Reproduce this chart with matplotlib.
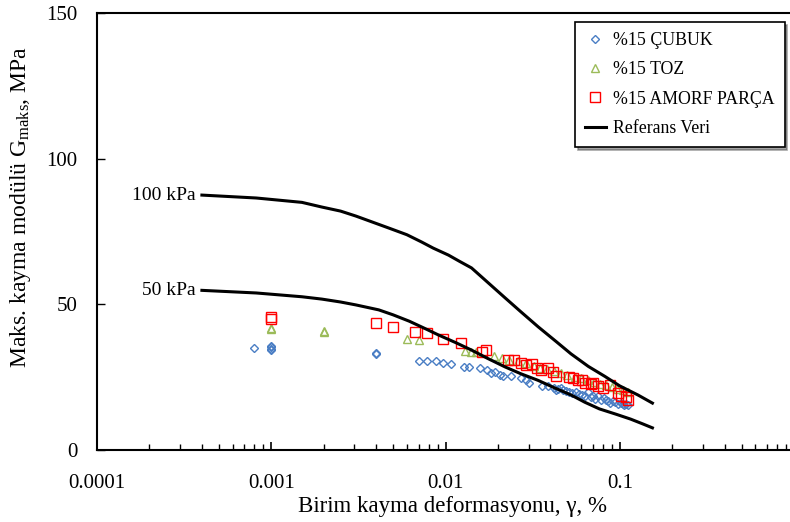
import matplotlib
matplotlib.use("Agg")
import matplotlib.pyplot as plt
from matplotlib.ticker import LogLocator, NullFormatter, FixedLocator, FixedFormatter

plt.rcParams['font.family'] = ['Liberation Serif', 'DejaVu Serif']
plt.rcParams['mathtext.fontset'] = 'custom'
plt.rcParams['mathtext.rm'] = 'Liberation Serif'
plt.rcParams['mathtext.it'] = 'Liberation Serif:italic'

# %15 CUBUK (blue diamonds)
cubuk_x = [0.0008, 0.001, 0.001, 0.001, 0.001, 0.004, 0.004,
           0.007, 0.0078, 0.0088, 0.0097, 0.0108, 0.0127, 0.0137, 0.0158, 0.0173,
           0.0183, 0.0193, 0.0206, 0.0215, 0.0239, 0.027, 0.029, 0.030, 0.036,
           0.039, 0.042, 0.043, 0.044, 0.046, 0.047, 0.049, 0.051, 0.053, 0.056,
           0.058, 0.061, 0.063, 0.066, 0.068, 0.070, 0.072, 0.075, 0.078, 0.081,
           0.083, 0.086, 0.088, 0.091, 0.094, 0.098, 0.101, 0.104, 0.106, 0.109, 0.112]
cubuk_y = [35.0, 35.8, 35.2, 34.6, 34.2, 33.3, 32.8,
           30.6, 30.5, 30.4, 29.9, 29.5, 28.6, 28.4, 28.1, 27.5,
           26.5, 26.9, 25.9, 25.4, 25.4, 24.7, 24.0, 22.9, 21.8,
           21.9, 21.2, 20.5, 20.9, 21.3, 20.5, 20.3, 19.9, 19.6, 19.9,
           19.3, 18.9, 18.7, 19.8, 18.3, 18.5, 17.6, 18.4, 17.2, 17.9,
           17.3, 16.9, 16.2, 16.8, 16.5, 15.8, 16.1, 15.9, 15.4, 15.8, 15.6]

# %15 TOZ (green triangles)
toz_x = [0.001, 0.001, 0.002, 0.002, 0.006, 0.007, 0.013, 0.014, 0.015, 0.019,
         0.021, 0.023, 0.026, 0.029, 0.032, 0.035, 0.038, 0.042, 0.046, 0.050,
         0.055, 0.060, 0.066, 0.071, 0.077, 0.083, 0.090, 0.097, 0.105, 0.112]
toz_y = [42.0, 41.6, 41.0, 40.5, 38.2, 37.8, 34.0, 33.8, 33.7, 32.2,
         31.5, 30.8, 30.5, 29.7, 29.0, 28.2, 27.8, 27.0, 26.5, 25.8,
         25.2, 24.7, 24.0, 23.4, 22.8, 22.3, 21.7, 21.0, 20.5, 20.0]

# %15 AMORF PARCA (red squares)
amorf_x = [0.001, 0.001, 0.004, 0.005, 0.0067, 0.0078, 0.0097, 0.0123, 0.0163, 0.0171,
           0.0228, 0.0246, 0.027, 0.029, 0.0314, 0.0336, 0.0354, 0.0386, 0.0414, 0.0431,
           0.0512, 0.0538, 0.0575, 0.0606, 0.0634, 0.0682, 0.070, 0.075, 0.080, 0.088,
           0.098, 0.101, 0.109, 0.112]
amorf_y = [45.8, 45.0, 43.6, 42.2, 40.5, 40.2, 38.1, 36.7, 33.6, 34.3,
           30.9, 30.9, 29.9, 29.2, 29.5, 28.2, 27.5, 28.2, 26.8, 25.4,
           25.1, 24.7, 24.0, 24.0, 23.0, 22.7, 23.0, 22.0, 21.3, 22.3,
           19.6, 18.5, 18.2, 17.2]

# reference curves (Referans Veri)
ref100_x = [0.0004, 0.00082, 0.0015, 0.00195, 0.0025, 0.00306, 0.00472, 0.006,
            0.00729, 0.0085, 0.0104, 0.012, 0.0141, 0.0175, 0.022, 0.027, 0.034,
            0.043, 0.0525, 0.066, 0.082, 0.10, 0.127, 0.154]
ref100_y = [87.5, 86.5, 85.0, 83.4, 82.0, 80.3, 76.2, 73.9,
            71.4, 69.3, 66.9, 64.8, 62.5, 57.5, 52.2, 47.5, 42.3,
            37.3, 33.0, 28.7, 25.3, 22.0, 18.9, 16.1]
ref50_x = [0.0004, 0.00082, 0.0015, 0.00195, 0.0025, 0.00306, 0.00414, 0.005,
           0.0062, 0.0075, 0.0091, 0.0115, 0.0141, 0.0175, 0.022, 0.027, 0.034,
           0.042, 0.0525, 0.063, 0.0765, 0.095, 0.1155, 0.135, 0.154]
ref50_y = [54.8, 53.9, 52.6, 51.8, 50.8, 49.8, 48.1, 46.4,
           44.2, 41.9, 39.5, 36.8, 34.3, 31.4, 28.5, 26.2, 23.9,
           21.4, 18.9, 16.4, 14.1, 12.3, 10.6, 9.0, 7.6]

fig = plt.figure(figsize=(7.9, 5.22), dpi=100)
ax = fig.add_axes([97/790, 1 - 450/522, 697/790, 437/522])

ax.plot(cubuk_x, cubuk_y, linestyle='none', marker='D', markersize=4,
        markerfacecolor='none', markeredgecolor='#4A7EC4', markeredgewidth=1.0,
        label='%15 ÇUBUK')
ax.plot(toz_x, toz_y, linestyle='none', marker='^', markersize=6,
        markerfacecolor='none', markeredgecolor='#9BBB59', markeredgewidth=1.0,
        label='%15 TOZ')
ax.plot(amorf_x, amorf_y, linestyle='none', marker='s', markersize=7,
        markerfacecolor='none', markeredgecolor='#FF0000', markeredgewidth=1.0,
        label='%15 AMORF PARÇA')
ax.plot(ref100_x, ref100_y, color='black', lw=2.2, label='Referans Veri')
ax.plot(ref50_x, ref50_y, color='black', lw=2.2)

ax.text(0.00037, 87.5, '100 kPa', ha='right', va='center', fontsize=14)
ax.text(0.00037, 54.8, '50 kPa', ha='right', va='center', fontsize=14)

ax.set_xscale('log')
ax.set_xlim(0.0001, 1)
ax.set_ylim(0, 150)
ax.xaxis.set_major_locator(FixedLocator([0.0001, 0.001, 0.01, 0.1]))
ax.xaxis.set_major_formatter(FixedFormatter(['0.0001', '0.001', '0.01', '0.1']))
ax.xaxis.set_minor_locator(LogLocator(base=10, subs=range(2, 10)))
ax.xaxis.set_minor_formatter(NullFormatter())
ax.set_yticks([0, 50, 100, 150])

ax.tick_params(axis='x', which='major', direction='in', length=6, width=1.2,
               labelsize=15, pad=17)
ax.tick_params(axis='x', which='minor', direction='in', length=4, width=1.0)
ax.tick_params(axis='y', which='major', direction='in', length=6, width=1.0,
               labelsize=15, pad=14)
for s in ax.spines.values():
    s.set_linewidth(1.5)

ax.set_xlabel('Birim kayma deformasyonu, γ, %', fontsize=16.5, labelpad=0)
ax.xaxis.set_label_coords(0.51, -0.106)
ax.set_ylabel(r'Maks. kayma modülü $\mathrm{G_{maks}}$, MPa', fontsize=17)
ax.yaxis.set_label_coords(-0.092, 0.556)

leg = ax.legend(loc='upper left', bbox_to_anchor=(575/790, 1 - 22/522),
                bbox_transform=fig.transFigure, borderaxespad=0,
                fontsize=12.8, frameon=True,
                fancybox=False, shadow=True, edgecolor='black', framealpha=1,
                borderpad=0.55, labelspacing=0.7, handlelength=1.2,
                handletextpad=0.4)
leg.get_frame().set_linewidth(1.2)

fig.savefig('out.png', dpi=100)
